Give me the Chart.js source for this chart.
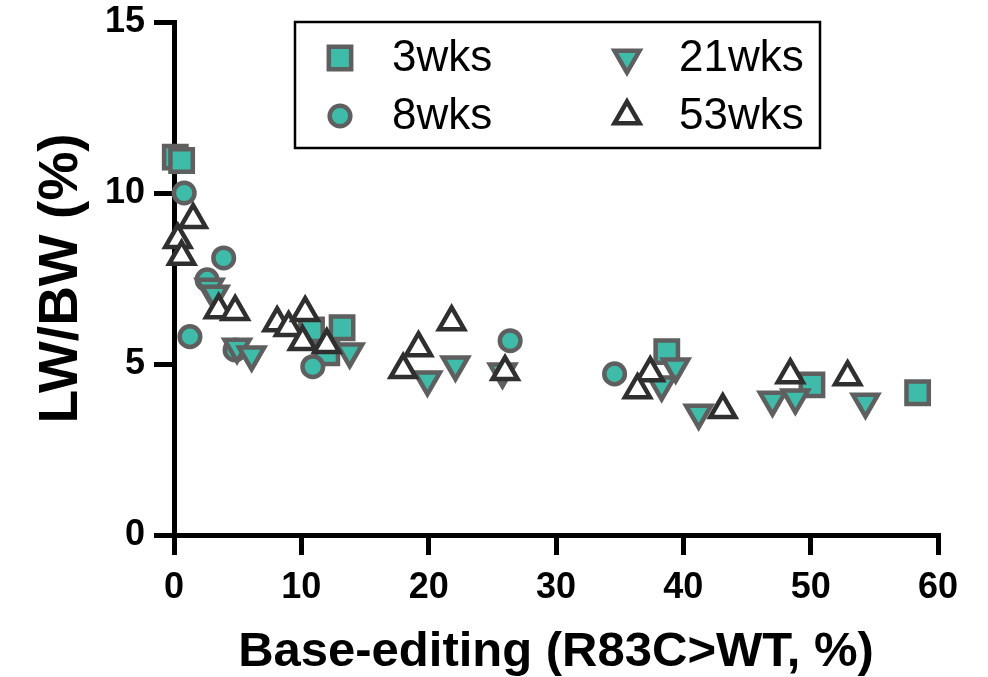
<!DOCTYPE html>
<html lang="en">
<head>
    <meta charset="UTF-8">
    <title>LW/BW vs base-editing</title>
    <script src="https://cdn.jsdelivr.net/npm/chart.js"></script>
    <style>
        body { margin: 0; background: #fff; }
        canvas { display: block; }
    </style>
</head>
<body>
    <canvas id="scatter" width="988" height="677"></canvas>

    <script>
        // values
        const seriesNames = ['3wks', '8wks', '21wks', '53wks'];

        const wk3X = [0.1, 0.6, 10.8, 12.0, 13.2, 38.7, 50.1, 58.4];
        const wk3Y = [11.05, 10.95, 6.0, 5.33, 6.06, 5.36, 4.39, 4.16];

        const wk8X = [0.8, 3.9, 2.6, 1.25, 4.8, 10.9, 26.4, 34.6];
        const wk8Y = [10.0, 8.1, 7.46, 5.8, 5.41, 4.92, 5.68, 4.71];

        const wk21X = [2.8, 3.2, 4.95, 6.1, 13.8, 19.9, 22.1, 25.8, 39.4, 38.3, 41.2, 47.0, 48.8, 54.3];
        const wk21Y = [7.25, 7.05, 5.5, 5.27, 5.36, 4.54, 4.98, 4.77, 4.92, 4.39, 3.57, 3.95, 4.01, 3.89];

        const wk53X = [1.5, 0.3, 0.6, 3.5, 4.8, 8.1, 9.0, 10.3, 10.1, 12.0, 21.8, 19.2, 18.0, 26.0, 37.4, 36.4, 43.1, 48.4, 52.9];
        const wk53Y = [9.22, 8.63, 8.14, 6.58, 6.53, 6.2, 6.06, 6.5, 5.65, 5.56, 6.23, 5.47, 4.83, 4.77, 4.74, 4.24, 3.66, 4.68, 4.62];

        const xTicks = [0, 10, 20, 30, 40, 50, 60];
        const yTicks = [0, 5, 10, 15];

        const teal = '#3fbba9';
        const grey = '#5f5f5f';
        const dark = '#2f2f2f';
        const font = '"Liberation Sans", Arial, sans-serif';

        function pts(xs, ys) {
            return xs.map((x, i) => ({ x: x, y: ys[i] }));
        }

        // legend drawn inside the plot with a frame, two columns
        const boxLegend = {
            id: 'boxLegend',
            afterDatasetsDraw(chart) {
                const ctx = chart.ctx;
                ctx.save();
                ctx.strokeStyle = '#000';
                ctx.lineWidth = 2.5;
                ctx.strokeRect(295, 22, 525, 126);

                const spots = [
                    { x: 340, y: 58 }, { x: 340, y: 116 },
                    { x: 627, y: 58 }, { x: 627, y: 116 }
                ];
                chart.data.datasets.forEach((ds, i) => {
                    const p = spots[i];
                    ctx.fillStyle = ds.backgroundColor;
                    ctx.strokeStyle = ds.borderColor;
                    ctx.lineWidth = ds.borderWidth;
                    Chart.helpers.drawPoint(ctx, {
                        pointStyle: ds.pointStyle,
                        rotation: ds.rotation || 0,
                        radius: ds.pointRadius,
                        borderWidth: ds.borderWidth
                    }, p.x, p.y);
                    ctx.fillStyle = '#000';
                    ctx.font = '44px ' + font;
                    ctx.textBaseline = 'middle';
                    ctx.textAlign = 'left';
                    ctx.fillText(ds.label, p.x + 52, p.y + 1);
                });
                ctx.restore();
            }
        };

        const ctx = document.getElementById('scatter').getContext('2d');
        const chart = new Chart(ctx, {
            type: 'scatter',
            data: {
                datasets: [
                    {
                        label: seriesNames[0], data: pts(wk3X, wk3Y),
                        pointStyle: 'rect', pointRadius: 15.8, borderWidth: 4.5,
                        backgroundColor: teal, borderColor: grey, order: 4, clip: false
                    },
                    {
                        label: seriesNames[1], data: pts(wk8X, wk8Y),
                        pointStyle: 'circle', pointRadius: 10.3, borderWidth: 4.5,
                        backgroundColor: teal, borderColor: grey, order: 3, clip: false
                    },
                    {
                        label: seriesNames[2], data: pts(wk21X, wk21Y),
                        pointStyle: 'triangle', rotation: 180, pointRadius: 14.5, borderWidth: 4.5,
                        backgroundColor: teal, borderColor: grey, order: 2, clip: false
                    },
                    {
                        label: seriesNames[3], data: pts(wk53X, wk53Y),
                        pointStyle: 'triangle', pointRadius: 14.5, borderWidth: 4.5,
                        backgroundColor: '#fff', borderColor: dark, order: 1, clip: false
                    }
                ]
            },
            options: {
                responsive: false,
                devicePixelRatio: 1,
                animation: false,
                layout: { padding: { top: 22, right: 50, left: 0, bottom: 0 } },
                plugins: {
                    legend: { display: false },
                    tooltip: { enabled: false }
                },
                elements: { point: { hoverRadius: 0 } },
                scales: {
                    x: {
                        type: 'linear',
                        min: 0, max: 60,
                        afterBuildTicks: s => { s.ticks = xTicks.map(v => ({ value: v })); },
                        afterFit: s => { s.height = 142; s.paddingLeft = 0; s.paddingRight = 0; },
                        grid: { drawOnChartArea: false, drawTicks: true, tickLength: 20, lineWidth: 5, color: '#000' },
                        border: { display: true, width: 5, color: '#000' },
                        ticks: {
                            color: '#000', padding: 11, maxRotation: 0,
                            font: { family: font, size: 36, weight: 'bold' }
                        },
                        title: {
                            display: true, text: 'Base-editing (R83C>WT, %)', color: '#000',
                            padding: { top: 0, bottom: 0 },
                            font: { family: font, size: 49, weight: 'bold', lineHeight: 1.0 }
                        }
                    },
                    y: {
                        type: 'linear',
                        min: 0, max: 15,
                        afterBuildTicks: s => { s.ticks = yTicks.map(v => ({ value: v })); },
                        afterFit: s => { s.width = 174; s.paddingTop = 0; s.paddingBottom = 0; },
                        grid: { drawOnChartArea: false, drawTicks: true, tickLength: 20, lineWidth: 5, color: '#000' },
                        border: { display: true, width: 5, color: '#000' },
                        ticks: {
                            color: '#000', padding: 9,
                            font: { family: font, size: 36, weight: 'bold' }
                        },
                        title: {
                            display: true, text: 'LW/BW (%)', color: '#000',
                            padding: { top: 29, bottom: 0 },
                            font: { family: font, size: 55, weight: 'bold' }
                        }
                    }
                }
            },
            plugins: [boxLegend]
        });
    </script>
</body>
</html>
